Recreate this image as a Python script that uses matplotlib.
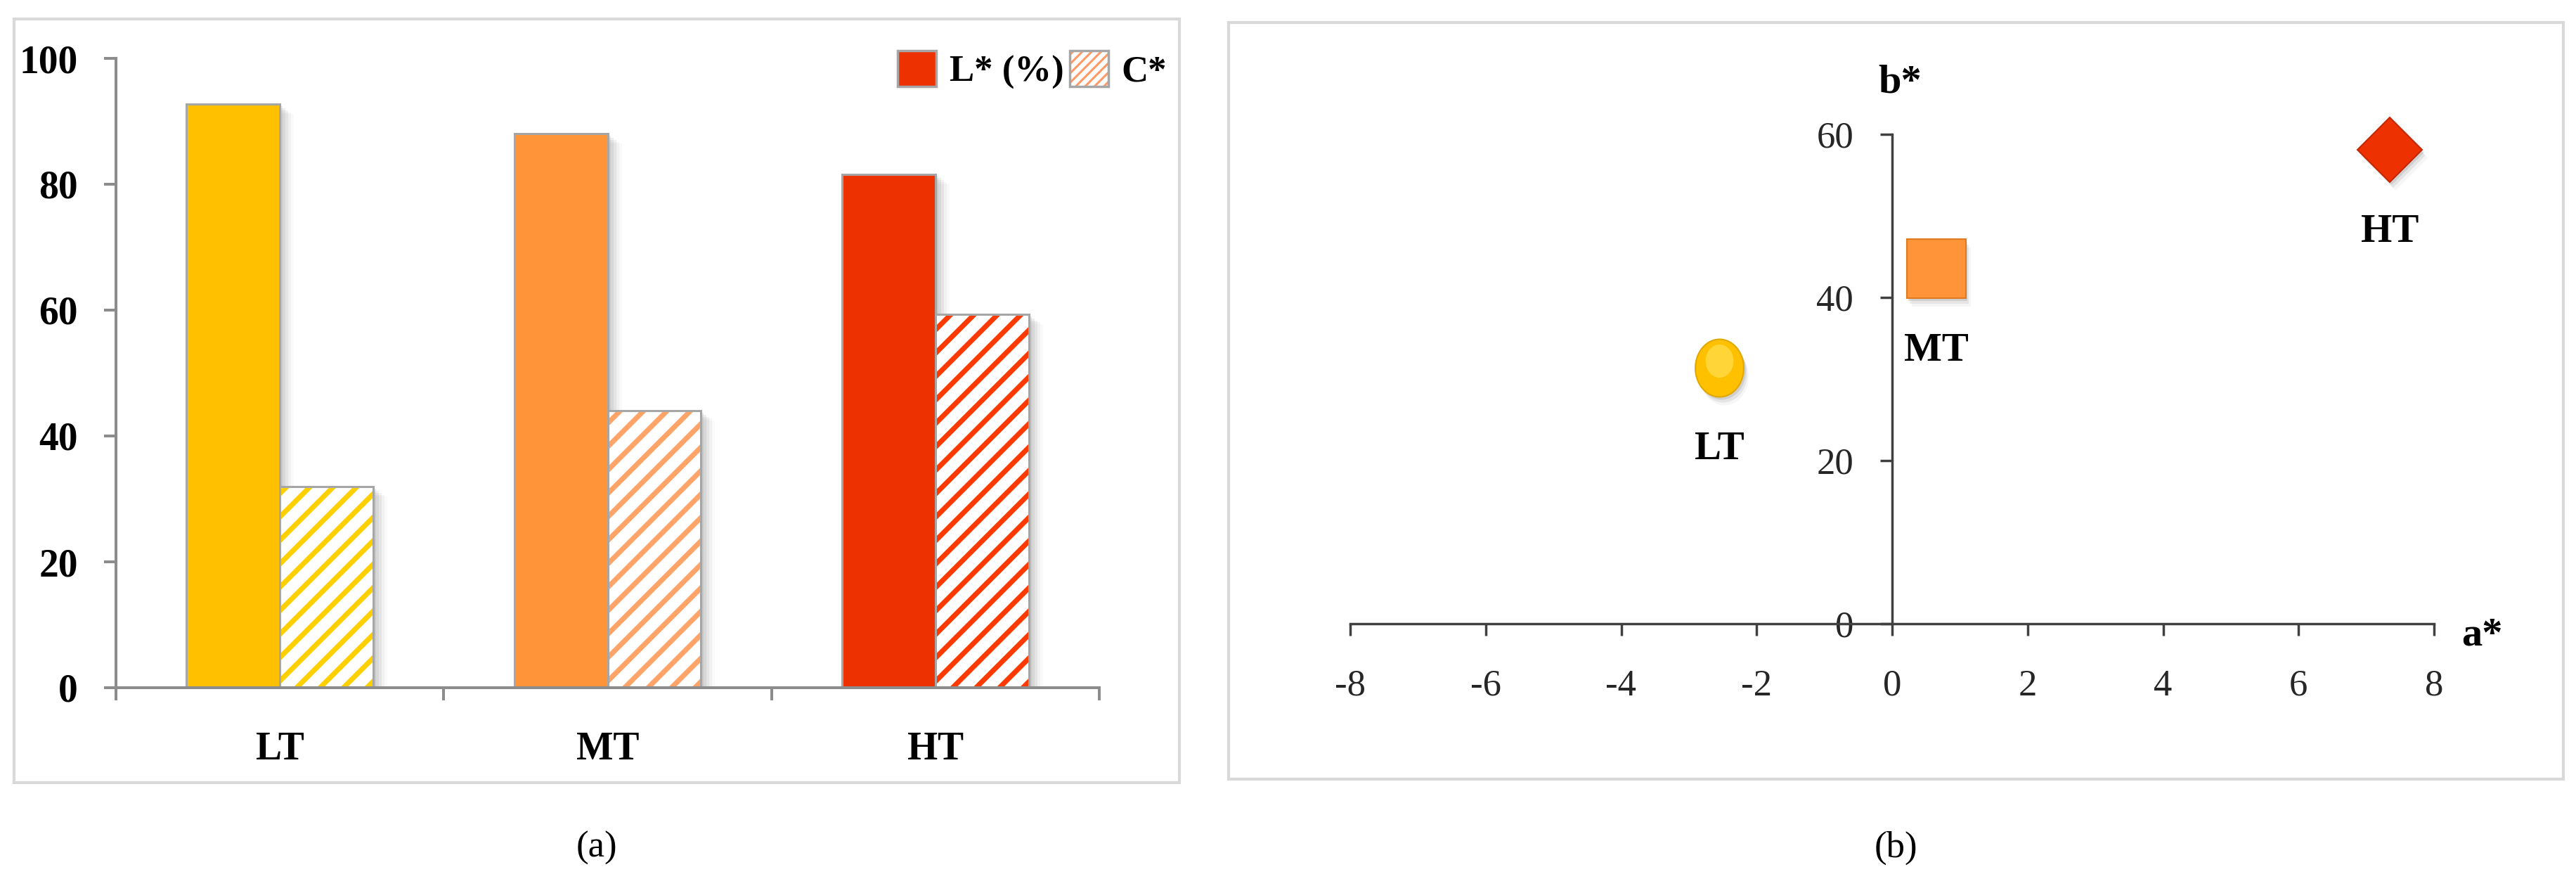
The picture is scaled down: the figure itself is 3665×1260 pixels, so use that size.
import numpy as np
import matplotlib.pyplot as plt
import matplotlib.patches as mpatches
from matplotlib.path import Path
from matplotlib.transforms import offset_copy

plt.rcParams["font.family"] = ["Liberation Serif", "DejaVu Serif"]
plt.rcParams["hatch.linewidth"] = 2.6
plt.rcParams["axes.unicode_minus"] = False

# datos panel (a)
muestras = ["LT", "MT", "HT"]
l_star = [92.7, 88.0, 81.6]
c_star = [31.9, 44.0, 59.3]

# datos panel (b)
a_star = [-2.55, 0.65, 7.35]
b_star = [31.4, 43.5, 58.1]

colores = ["#FFC000", "#FF9538", "#EE3100"]
colores_rayas = ["#FFD000", "#FFA468", "#FF3A00"]
bordes_pts = ["#E0A800", "#E07A20", "#C42800"]

# dpi 200 para que el rayado quede con la separacion del original
W, H, DPI = 3665, 1260, 200


def fx(px):
    return px / W


def fy(py):
    return 1 - py / H


fig = plt.figure(figsize=(W / DPI, H / DPI), dpi=DPI)

# marcos de los paneles
for x0, y0, x1, y1 in [(20, 27, 1678, 1113), (1748, 32, 3647, 1108)]:
    fig.add_artist(mpatches.Rectangle((fx(x0), fy(y1)), fx(x1) - fx(x0), fy(y0) - fy(y1),
                                      transform=fig.transFigure, fill=False,
                                      edgecolor="#D9D9D9", linewidth=1.5))

# ---------------- Panel (a): barras ----------------
ax1 = fig.add_axes([fx(165), fy(978), fx(1564) - fx(165), fy(83) - fy(978)])
ax1.patch.set_alpha(0)
x = np.arange(len(muestras))
w = 0.285

# sombras
for k, al in zip([4, 8, 12, 16, 20], [0.16, 0.13, 0.10, 0.07, 0.04]):
    tr = offset_copy(ax1.transData, fig=fig, x=k, y=-k * 0.7, units="dots")
    ax1.bar(x - w / 2, l_star, w, color="gray", alpha=al, linewidth=0, transform=tr, zorder=1)
    ax1.bar(x + w / 2, c_star, w, color="gray", alpha=al, linewidth=0, transform=tr, zorder=1)

ax1.bar(x - w / 2, l_star, w, color=colores, edgecolor="#A6A6A6", linewidth=1.1, zorder=3)
ax1.bar(x + w / 2, c_star, w, color="white", edgecolor=colores_rayas, hatch="//",
        linewidth=0, zorder=3)
ax1.bar(x + w / 2, c_star, w, fill=False, edgecolor="#A6A6A6", linewidth=1.1, zorder=4)

ax1.set_xlim(-0.5, 2.5)
ax1.set_ylim(0, 100)
for s in ["top", "right"]:
    ax1.spines[s].set_visible(False)
for s in ["left", "bottom"]:
    ax1.spines[s].set_color("#8C8C8C")
    ax1.spines[s].set_linewidth(1.45)
    ax1.spines[s].set_zorder(5)
ax1.set_yticks([0, 20, 40, 60, 80, 100])
ax1.tick_params(axis="y", direction="out", length=6, width=1.45, color="#8C8C8C",
                pad=13.5, labelsize=20)
ax1.set_xticks([-0.5, 0.5, 1.5, 2.5], labels=[])
ax1.tick_params(axis="x", which="major", direction="out", length=6.5, width=1.45,
                color="#8C8C8C")
ax1.set_xticks(x, labels=muestras, minor=True)
ax1.tick_params(axis="x", which="minor", length=0, pad=22.5, labelsize=20)
for lab in ax1.get_yticklabels() + ax1.get_xticklabels(minor=True):
    lab.set_fontweight("bold")

with plt.rc_context({"hatch.linewidth": 1.1}):
    h1 = mpatches.Patch(facecolor="#EE3100", edgecolor="#A6A6A6", linewidth=1.25)
    h2a = mpatches.Patch(facecolor="white", edgecolor="#FF9966", hatch="/////", linewidth=0)
    h2b = mpatches.Patch(fill=False, edgecolor="#A6A6A6", linewidth=1.25)
    ax1.legend(handles=[h1, (h2a, h2b)], labels=["L* (%)", "C*"], ncol=2,
               loc="upper right", bbox_to_anchor=(fx(1660), fy(72)),
               bbox_transform=fig.transFigure, frameon=False,
               prop={"weight": "bold", "size": 19}, handlelength=1.05, handleheight=1.1,
               handletextpad=0.35, columnspacing=0.15, borderpad=0, borderaxespad=0)

# ---------------- Panel (b): a* vs b* ----------------
ax2 = fig.add_axes([fx(1921), fy(887), fx(3463) - fx(1921), fy(191) - fy(887)])
ax2.patch.set_alpha(0)
ax2.set_xlim(-8, 8)
ax2.set_ylim(0, 60)
ax2.spines["left"].set_position(("data", 0))
for s in ["top", "right"]:
    ax2.spines[s].set_visible(False)
for s in ["left", "bottom"]:
    ax2.spines[s].set_color("#404040")
    ax2.spines[s].set_linewidth(1.25)
ax2.set_xticks(range(-8, 9, 2))
ax2.set_yticks([0, 20, 40, 60])
ax2.tick_params(direction="out", length=6.25, width=1.25, color="#404040",
                labelcolor="#262626", labelsize=19)
ax2.tick_params(axis="x", pad=17)
ax2.tick_params(axis="y", pad=13.5)

t = np.linspace(0, 2 * np.pi, 80)
elipse = Path(np.column_stack([0.84 * np.cos(t), np.sin(t)]))
marcadores = [elipse, "s", "D"]
tamanos = [29.5, 30.5, 23.5]

for i in range(len(muestras)):
    for k, al in [(4, 0.22), (8, 0.14), (12, 0.07)]:
        tr = offset_copy(ax2.transData, fig=fig, x=k * 0.6, y=-k, units="dots")
        ax2.plot(a_star[i], b_star[i], marker=marcadores[i], ms=tamanos[i], color="gray",
                 alpha=al, markeredgewidth=0, linestyle="none", transform=tr,
                 clip_on=False, zorder=2)
    ax2.plot(a_star[i], b_star[i], marker=marcadores[i], ms=tamanos[i],
             markerfacecolor=colores[i], markeredgecolor=bordes_pts[i],
             markeredgewidth=0.75, linestyle="none", clip_on=False, zorder=4)
    ax2.annotate(muestras[i], (a_star[i], b_star[i]), xytext=(0, -42),
                 textcoords="offset points", ha="center", va="center",
                 fontsize=20.5, fontweight="bold", annotation_clip=False)

# brillo suave en el circulo
tr_luz = offset_copy(ax2.transData, fig=fig, x=0, y=10, units="dots")
ax2.plot(a_star[0], b_star[0], marker=elipse, ms=17, color="#FFE45C", alpha=0.6,
         markeredgewidth=0, linestyle="none", transform=tr_luz, clip_on=False, zorder=5)

fig.text(fx(2703), fy(117), "b*", ha="center", va="center", fontsize=21, fontweight="bold")
fig.text(fx(3531), fy(903), "a*", ha="center", va="center", fontsize=21, fontweight="bold")

fig.text(fx(849), fy(1206), "(a)", ha="center", va="center", fontsize=19)
fig.text(fx(2697), fy(1206), "(b)", ha="center", va="center", fontsize=19)

fig.savefig("out.png", dpi=DPI)
